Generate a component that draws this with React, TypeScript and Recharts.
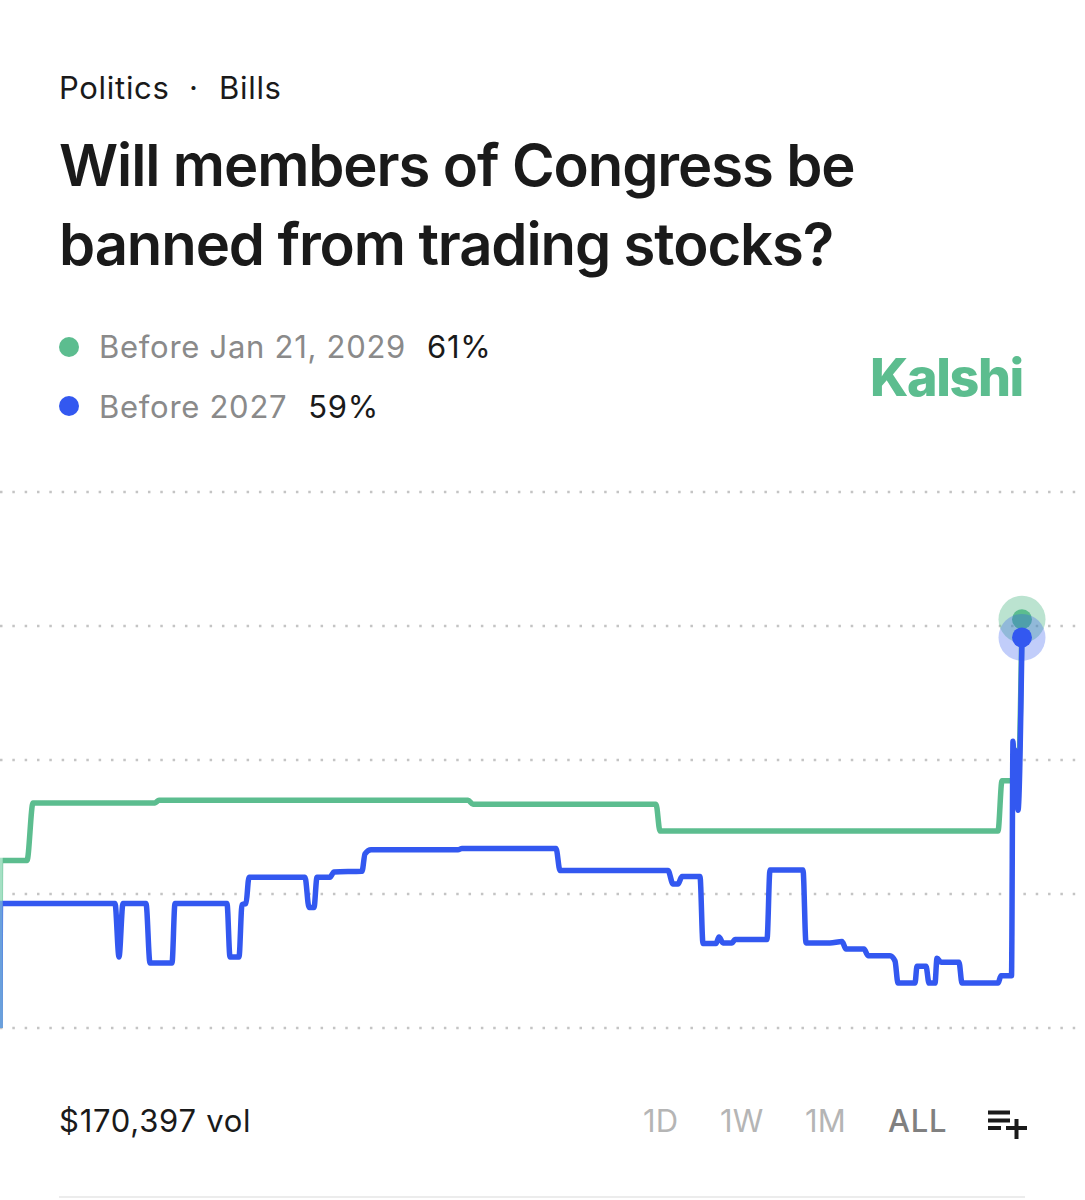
import { CartesianGrid, Line, LineChart, XAxis, YAxis } from 'recharts';

const GREEN = '#5cbd8f';
const BLUE = '#3358f0';
const FONT = 'Inter, "Noto Sans", sans-serif';

const Y_TICKS = [0, 20, 40, 60, 80];

const greenTime = [0, 0.5, 27, 33, 155, 159, 468, 473, 656, 660, 998, 1002, 1018, 1022];
const greenPct = [0, 25, 25, 33.6, 33.6, 34, 34, 33.4, 33.4, 29.4, 29.4, 36.9, 36.9, 61];

const blueTime = [
  0, 0.5, 115, 119, 123, 146, 150, 172, 175, 227, 230, 239, 242, 246, 249, 305, 309, 314, 317, 330,
  334, 362, 365, 371, 458, 462, 556, 560, 668, 673, 678, 682, 700, 703, 716, 719, 723, 732, 735,
  767, 770, 803, 806, 830, 842, 846, 864, 868, 890, 895, 898, 915, 917, 926, 929, 935, 937, 941,
  959, 962, 998, 1001, 1010, 1011.5, 1013, 1014.5, 1015, 1016.5, 1017, 1018, 1022,
];
const bluePct = [
  0, 18.6, 18.6, 10.6, 18.6, 18.6, 9.7, 9.7, 18.6, 18.6, 10.6, 10.6, 18.4, 18.6, 22.5, 22.5, 18,
  18, 22.5, 22.5, 23.3, 23.4, 26, 26.6, 26.6, 26.8, 26.8, 23.5, 23.5, 21.5, 21.5, 22.6, 22.6,
  12.6, 12.6, 13.6, 12.7, 12.7, 13.2, 13.2, 23.6, 23.6, 12.7, 12.7, 12.9, 11.8, 11.8, 10.8, 10.8,
  10, 6.7, 6.7, 9.2, 9.2, 6.7, 6.7, 10.4, 9.8, 9.8, 6.7, 6.7, 7.8, 7.8, 7.8, 42.8, 34, 41.5, 33,
  40, 32.5, 58.3,
];

const greenData = greenTime.map((t, i) => ({ t, green: greenPct[i] }));
const blueData = blueTime.map((t, i) => ({ t, blue: bluePct[i] }));

const legendRows = [
  { label: 'Before Jan 21, 2029', pct: '61%', color: GREEN },
  { label: 'Before 2027', pct: '59%', color: BLUE },
];
const ranges = ['1D', '1W', '1M', 'ALL'];

function EndDot(props: any, color: string, haloOpacity: number, lastIndex: number) {
  const { cx, cy, index } = props;
  if (index !== lastIndex) return <g key={index} />;
  return (
    <g key={index}>
      <circle cx={cx} cy={cy} r={23.5} fill={color} fillOpacity={haloOpacity} />
      <circle cx={cx} cy={cy} r={10} fill={color} />
    </g>
  );
}

function abs(left: number, top: number, extra: any = {}) {
  return { position: 'absolute', left, top, whiteSpace: 'nowrap', ...extra } as any;
}

export default function App() {
  return (
    <div
      style={{
        position: 'absolute',
        left: 0,
        top: 0,
        width: 1085,
        height: 1200,
        overflow: 'hidden',
        background: '#fff',
        fontFamily: FONT,
        color: '#1a1a1a',
      }}
    >
      <div style={abs(59, 69, { fontSize: 31, lineHeight: '38px', letterSpacing: 0.7 })}>Politics</div>
      <div style={abs(189, 69, { fontSize: 31, lineHeight: '38px' })}>·</div>
      <div style={abs(219, 69, { fontSize: 31, lineHeight: '38px', letterSpacing: 0.7 })}>Bills</div>
      <div style={abs(59, 126, { fontSize: 58, fontWeight: 600, lineHeight: '79px', letterSpacing: -1.1 })}>
        Will members of Congress be
        <br />
        banned from trading stocks?
      </div>

      {legendRows.map((row, i) => (
        <div key={row.label} style={abs(59, 327.5 + i * 59.5, { display: 'flex', alignItems: 'center', height: 38, fontSize: 31, letterSpacing: 0.72 })}>
          <span style={{ width: 20, height: 20, borderRadius: '50%', background: row.color, marginRight: 20 }} />
          <span style={{ color: '#8a8a8a', marginRight: 21 }}>{row.label}</span>
          <span>{row.pct}</span>
        </div>
      ))}

      <div style={abs(870, 342, { fontSize: 52, fontWeight: 800, lineHeight: '72px', letterSpacing: -1.4, color: GREEN })}>Kalshi</div>

      <div style={abs(0, 462)}>
        <LineChart width={1085} height={600} margin={{ top: 30, right: 0, bottom: 34, left: 0 }}>
          <defs>
            <linearGradient id="greenEdge" gradientUnits="userSpaceOnUse" x1="0" y1="0" x2="1085" y2="0">
              <stop offset="0.002" stopColor="#a5e0c4" />
              <stop offset="0.003" stopColor={GREEN} />
            </linearGradient>
            <linearGradient id="blueEdge" gradientUnits="userSpaceOnUse" x1="0" y1="0" x2="1085" y2="0">
              <stop offset="0.002" stopColor="#6aa0dc" />
              <stop offset="0.003" stopColor={BLUE} />
            </linearGradient>
          </defs>
          <CartesianGrid vertical={false} stroke="#c4c4c4" strokeWidth={2.5} strokeDasharray="2.5 9.83" />
          <XAxis dataKey="t" type="number" domain={[0, 1085]} hide allowDuplicatedCategory={false} />
          <YAxis type="number" domain={[0, 80]} ticks={Y_TICKS} hide />
          <Line
            data={greenData}
            dataKey="green"
            type="monotone"
            stroke="url(#greenEdge)"
            strokeWidth={5.5}
            dot={(p: any) => EndDot(p, GREEN, 0.42, greenData.length - 1)}
            activeDot={false}
            isAnimationActive={false}
          />
          <Line
            data={blueData}
            dataKey="blue"
            type="monotone"
            stroke="url(#blueEdge)"
            strokeWidth={5.5}
            dot={(p: any) => EndDot(p, BLUE, 0.3, blueData.length - 1)}
            activeDot={false}
            isAnimationActive={false}
          />
        </LineChart>
      </div>

      <div style={abs(59, 1102, { fontSize: 31, lineHeight: '38px', letterSpacing: 0.75 })}>$170,397 vol</div>
      {ranges.map((r, i) => (
        <div
          key={r}
          style={abs([643, 720, 805, 888][i], 1102, {
            fontSize: 31,
            lineHeight: '38px',
            fontWeight: r === 'ALL' ? 500 : 400,
            letterSpacing: r === 'ALL' ? 0.8 : 0.2,
            color: r === 'ALL' ? '#808080' : '#b5b5b5',
          })}
        >
          {r}
        </div>
      ))}
      <svg style={abs(985, 1108)} width={46} height={34}>
        <g fill="#1a1a1a">
          <rect x={3} y={2.5} width={22} height={4} />
          <rect x={3} y={10.5} width={22} height={4} />
          <rect x={3} y={18} width={13} height={4} />
          <rect x={21} y={18} width={21} height={4} />
          <rect x={29.5} y={11} width={4} height={20} />
        </g>
      </svg>
      <div style={abs(59, 1196, { width: 966, height: 2, background: '#ececec' })} />
    </div>
  );
}
